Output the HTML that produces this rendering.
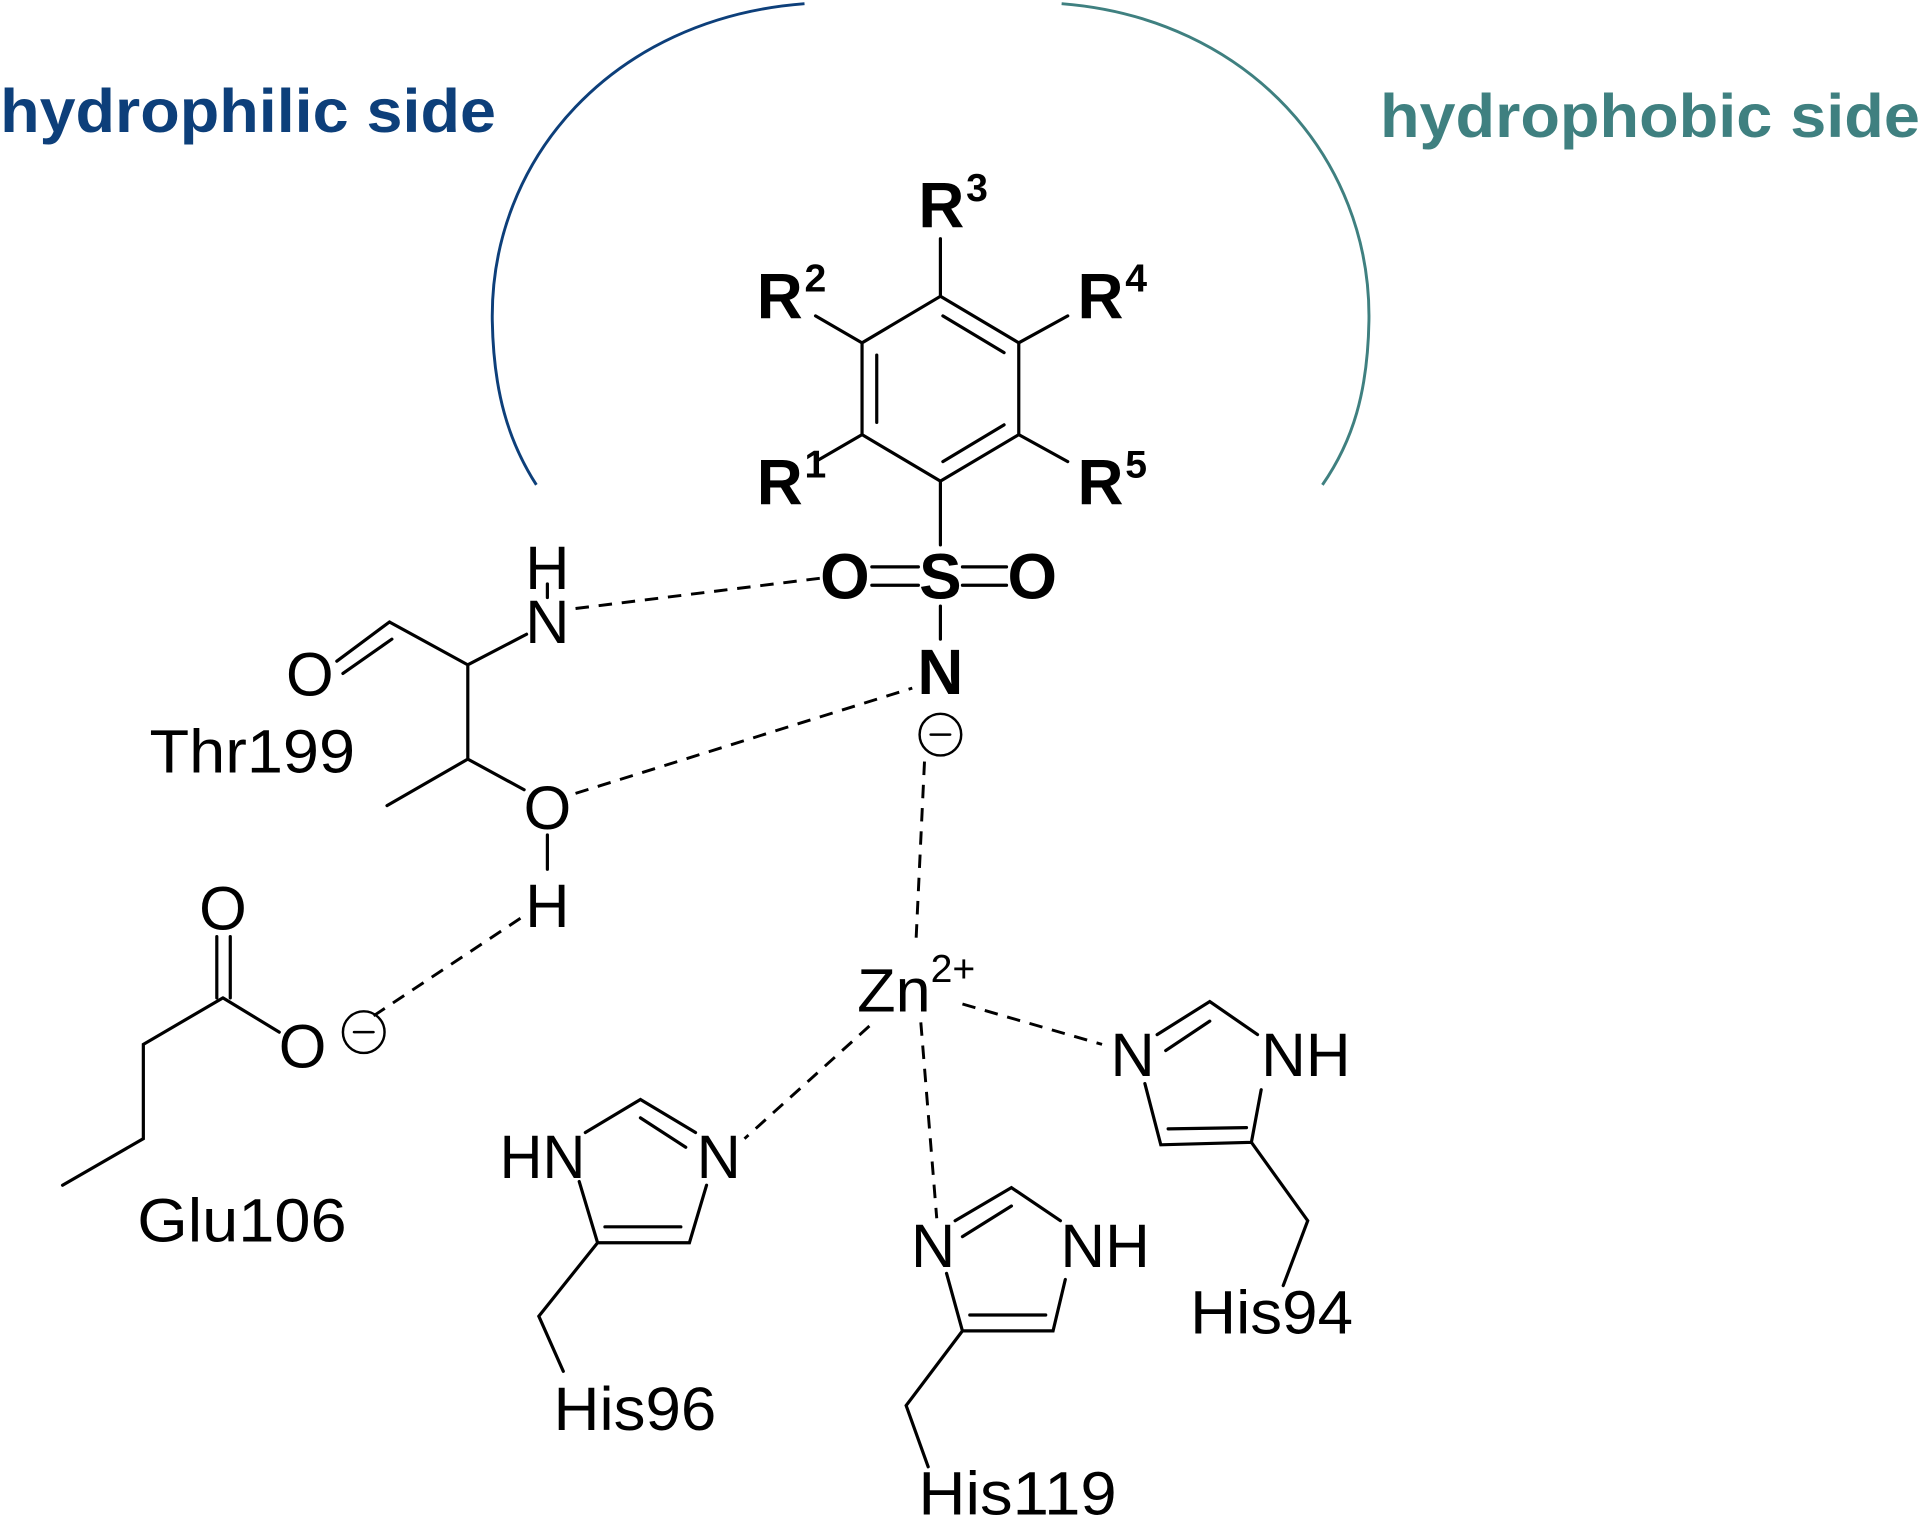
<!DOCTYPE html>
<html><head><meta charset="utf-8"><style>html,body{margin:0;padding:0;background:#fff}svg{display:block}</style></head>
<body>
<svg width="1920" height="1517" viewBox="0 0 1568 1239" xmlns="http://www.w3.org/2000/svg" font-family="Liberation Sans, Arial, sans-serif">
<g fill="none" stroke-width="2.4">
<path d="M657,3 C500,15 400,130 402,262 C403,320 415,360 438,396" stroke="#0d3f7a"/>
<path d="M867,3 C1020,15 1120,130 1118,262 C1117,320 1105,360 1080,396" stroke="#3f8080"/>
</g>
<text x="0" y="108" font-size="50" font-weight="bold" fill="#0d3f7a" textLength="405" lengthAdjust="spacingAndGlyphs">hydrophilic side</text>
<text x="1127" y="112" font-size="50" font-weight="bold" fill="#3f8080" textLength="441" lengthAdjust="spacingAndGlyphs">hydrophobic side</text>
<g stroke="#000" stroke-width="2.6" fill="none" stroke-linecap="round">
<path d="M768,242 L832,280 L832,355 L768,393 L704,355 L704,280 Z"/>
<path d="M770,258 L820,288 M716,290 L716,345 M770,377 L820,347"/>
<path d="M768,242 L768,195 M704,280 L666,258 M832,280 L872,258 M704,355 L666,377 M832,355 L872,377 M768,393 L768,445"/>
<path d="M712,463 L750,463 M712,478 L750,478 M786,463 L822,463 M786,478 L822,478"/>
<path d="M768,495 L768,522"/>
<circle cx="768" cy="600" r="17" stroke-width="2"/>
<path d="M760,600 L776,600" stroke-width="2"/>
<path d="M447,477 L447,488"/>
<path d="M275,540 L318,508 M280,550 L320,522 M318,508 L382,543 L430,518 M382,543 L382,620 L316,658 M382,620 L428,645 M447,682 L447,710"/>
<path d="M177,765 L177,815 M188,765 L188,815 M182,815 L228,843 M182,815 L117,853 L117,930 L51,968"/>
<circle cx="297" cy="843" r="17" stroke-width="2"/>
<path d="M289,843 L305,843" stroke-width="2"/>
<path d="M945,845 L988,818 L1027,845 M952,858 L988,834 M935,885 L948,935 L1022,933 L1030,890 M954,922 L1018,921 M1022,933 L1068,997 L1048,1050"/>
<path d="M478,925 L523,898 L568,925 M523,913 L560,937 M473,965 L488,1015 L563,1015 L577,968 M494,1002 L556,1002 M488,1015 L440,1075 L460,1120"/>
<path d="M780,997 L826,970 L866,997 M786,1010 L826,985 M773,1040 L786,1087 L860,1087 L870,1045 M792,1074 L854,1074 M786,1087 L740,1148 L758,1198"/>
</g>
<g stroke="#000" stroke-width="2.4" stroke-dasharray="11,8" fill="none">
<path d="M470,497 L672,472 M470,648 L745,562 M755,622 L748,770 M425,750 L300,833 M786,820 L900,853 M710,838 L608,930 M752,835 L765,995"/>
</g>
<g font-size="50" fill="#000">
<g font-weight="bold" font-size="52">
<text x="750" y="186">R</text><text x="789" y="164" font-size="32">3</text>
<text x="618" y="260">R</text><text x="657" y="238" font-size="32">2</text>
<text x="880" y="260">R</text><text x="919" y="238" font-size="32">4</text>
<text x="618" y="412">R</text><text x="657" y="390" font-size="32">1</text>
<text x="880" y="412">R</text><text x="919" y="390" font-size="32">5</text>
<text x="768" y="489" text-anchor="middle">S</text>
<text x="690" y="489" text-anchor="middle">O</text>
<text x="843" y="489" text-anchor="middle">O</text>
<text x="768" y="567" text-anchor="middle">N</text>
</g>
<text x="447" y="481" text-anchor="middle">H</text>
<text x="447" y="525" text-anchor="middle">N</text>
<text x="253" y="568" text-anchor="middle">O</text>
<text x="447" y="677" text-anchor="middle">O</text>
<text x="447" y="757" text-anchor="middle">H</text>
<text x="122" y="631" textLength="168" lengthAdjust="spacingAndGlyphs">Thr199</text>
<text x="182" y="759" text-anchor="middle">O</text>
<text x="247" y="872" text-anchor="middle">O</text>
<text x="112" y="1014" textLength="171" lengthAdjust="spacingAndGlyphs">Glu106</text>
<text x="700" y="826" textLength="60" lengthAdjust="spacingAndGlyphs">Zn</text><text x="760" y="802" font-size="32">2+</text>
<text x="925" y="879" text-anchor="middle">N</text>
<text x="1030" y="879" textLength="73" lengthAdjust="spacingAndGlyphs">NH</text>
<text x="972" y="1089" textLength="133" lengthAdjust="spacingAndGlyphs">His94</text>
<text x="408" y="962" textLength="70" lengthAdjust="spacingAndGlyphs">HN</text>
<text x="587" y="962" text-anchor="middle">N</text>
<text x="452" y="1168" textLength="133" lengthAdjust="spacingAndGlyphs">His96</text>
<text x="762" y="1035" text-anchor="middle">N</text>
<text x="866" y="1035" textLength="73" lengthAdjust="spacingAndGlyphs">NH</text>
<text x="750" y="1237" textLength="162" lengthAdjust="spacingAndGlyphs">His119</text>
</g>
</svg>
</body></html>
